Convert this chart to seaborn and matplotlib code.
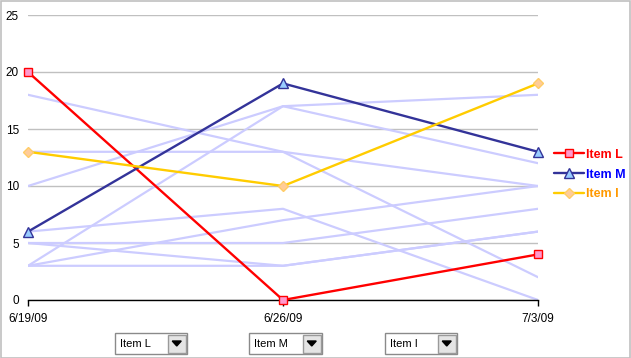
import matplotlib
matplotlib.use("Agg")
import matplotlib.pyplot as plt
import seaborn as sns
import pandas as pd
from matplotlib.patches import Rectangle, Polygon

# ---- data ----
dates = ["6/19/09", "6/26/09", "7/3/09"]
item_l = [20, 0, 4]
item_m = [6, 19, 13]
item_i = [13, 10, 19]
bg_a = [18, 13, 2]
bg_b = [13, 13, 10]
bg_c = [10, 17, 18]
bg_d = [3, 17, 12]
bg_e = [6, 8, 0]
bg_f = [3, 7, 10]
bg_g = [5, 5, 8]
bg_h = [5, 3, 6]
bg_k = [3, 3, 6]
y_ticks = [0, 5, 10, 15, 20, 25]
dropdown_labels = ["Item L", "Item M", "Item I"]

sns.set_theme(style="white")
plt.rcParams["font.family"] = ["Liberation Sans", "DejaVu Sans"]

W, H = 631, 358
fig = plt.figure(figsize=(W / 100, H / 100), dpi=100)
fig.patch.set_facecolor("white")
ax = fig.add_axes([28 / W, 1 - 300 / H, 510 / W, 285 / H])
ax.set_facecolor("white")

pos = list(range(len(dates)))
bg_list = [bg_a, bg_b, bg_c, bg_d, bg_e, bg_f, bg_g, bg_h, bg_k]
rows = []
for k, s in enumerate(bg_list):
    for p, v in zip(pos, s):
        rows.append({"series": k, "pos": p, "value": v})
bg = pd.DataFrame(rows)
sns.lineplot(data=bg, x="pos", y="value", units="series", estimator=None,
             color="#ccccff", lw=1.6, ax=ax, legend=False)

main = [
    ("Item L", item_l, "#ff0000", "s", "#ff99cc", "#ff0000", 5.5),
    ("Item M", item_m, "#333399", "^", "#99ccff", "#333399", 7),
    ("Item I", item_i, "#ffcc00", "D", "#ffcc99", "#ffcc66", 5.5),
]
for name, vals, col, mk, mfc, mec, ms in main:
    sns.lineplot(x=pos, y=vals, color=col, lw=1.7, marker=mk, markersize=ms,
                 markerfacecolor=mfc, markeredgecolor=mec, markeredgewidth=1,
                 ax=ax, label=name, clip_on=False, zorder=5)

ax.set_xlim(0, 2)
ax.set_ylim(0, 25)
ax.set_xticks(pos)
ax.set_xticklabels(dates, fontsize=8.5, color="black")
ax.set_yticks(y_ticks)
ax.set_yticklabels([str(t) for t in y_ticks], fontsize=8.5, color="black")
ax.set_xlabel("")
ax.set_ylabel("")
ax.yaxis.grid(True, color="#c0c0c0", lw=1)
ax.xaxis.grid(False)
ax.set_axisbelow(True)
for s in ["left", "top", "right"]:
    ax.spines[s].set_visible(False)
ax.spines["bottom"].set_color("black")
ax.spines["bottom"].set_linewidth(1)
ax.tick_params(axis="x", length=4, width=1, color="black", direction="out", pad=5, bottom=True)
ax.tick_params(axis="y", length=0, pad=6.5)

leg = ax.legend(loc="center left", bbox_to_anchor=(1.01, 0.44), frameon=False,
                handlelength=2.4, handletextpad=0.15, labelspacing=0.62,
                prop={"weight": "bold", "size": 9},
                labelcolor=["#ff0000", "#0000ff", "#ff9900"])

# dropdown widgets below the chart
boxes = [(115, 187), (249, 322), (385, 457)]
for (x0, x1), lab in zip(boxes, dropdown_labels):
    y0, y1 = 333, 354
    fig.add_artist(Rectangle((x0 / W, 1 - y1 / H), (x1 - x0) / W, (y1 - y0) / H,
                             transform=fig.transFigure, facecolor="white",
                             edgecolor="#8a8a8a", lw=1))
    bx0 = x1 - 19
    fig.add_artist(Rectangle(((bx0) / W, 1 - (y1 - 1.5) / H), 17.5 / W, (y1 - y0 - 3) / H,
                             transform=fig.transFigure, facecolor="#e4e4e4",
                             edgecolor="#9a9a9a", lw=1))
    cx = (bx0 + 8.75) / W
    cy = 1 - 343.5 / H
    fig.add_artist(Polygon([(cx - 4.5 / W, cy + 2.5 / H), (cx + 4.5 / W, cy + 2.5 / H),
                            (cx, cy - 2.5 / H)], closed=True, transform=fig.transFigure,
                           facecolor="black", edgecolor="black"))
    fig.text((x0 + 5) / W, 1 - 344 / H, lab, fontsize=8, va="center", ha="left", color="black")

# outer border
fig.add_artist(Rectangle((0.5 / W, 0.5 / H), (W - 1.5) / W, (H - 1.5) / H,
                         transform=fig.transFigure, fill=False, edgecolor="#c0c0c0", lw=1.2))

fig.savefig("out.png", dpi=100)
